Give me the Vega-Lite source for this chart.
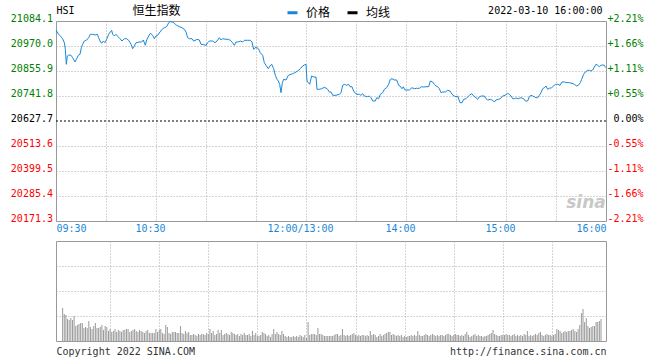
{
 "$schema": "https://vega.github.io/schema/vega-lite/v6.json",
 "padding": {"left": 9, "top": 3, "right": 5, "bottom": 4},
 "autosize": {"type": "pad"},
 "background": "white",
 "config": {
  "view": {"stroke": "#999999", "strokeWidth": 1},
  "font": "DejaVu Sans Mono",
  "axis": {"labelFont": "DejaVu Sans Mono", "labelFontSize": 10, "titleFont": "DejaVu Sans Mono", "titleFontSize": 10, "titleFontWeight": "normal", "ticks": false, "domain": false, "gridColor": "#aaaaaa", "gridDash": [1, 2], "gridWidth": 1}
 },
 "datasets": {
  "price": [
   {"m":0,"p":21043.0},{"m":1.6,"p":21023.4},{"m":3,"p":21012.5},{"m":4,"p":21003.3},{"m":5,"p":20985.1},{"m":5.6,"p":20954.9},{"m":6.2,"p":20886.5},{"m":6.8,"p":20924.4},{"m":7.6,"p":20928.9},{"m":9,"p":20927.6},{"m":10,"p":20916.6},{"m":11.4,"p":20897.0},{"m":12.4,"p":20912.0},{"m":13.4,"p":20927.6},{"m":14.4,"p":20932.1},{"m":15.2,"p":20962.2},{"m":16,"p":20977.8},{"m":17,"p":20992.8},{"m":18.4,"p":20997.4},{"m":19.6,"p":21007.9},{"m":20.6,"p":21023.4},{"m":22,"p":21023.4},{"m":23.6,"p":21020.2},{"m":24.8,"p":21023.4},{"m":25.6,"p":21007.9},{"m":26.4,"p":20992.8},{"m":27.4,"p":20982.3},{"m":28.4,"p":20992.8},{"m":29.4,"p":20985.1},{"m":30.4,"p":21000.6},{"m":31.6,"p":21023.4},{"m":32.6,"p":21033.9},{"m":33.4,"p":21041.7},{"m":34,"p":21023.4},{"m":35,"p":21015.6},{"m":36,"p":21023.4},{"m":37.2,"p":21012.5},{"m":38.4,"p":21003.3},{"m":39.6,"p":20992.8},{"m":41,"p":21003.3},{"m":42.4,"p":21003.3},{"m":43.6,"p":20996.0},{"m":45,"p":20977.8},{"m":46,"p":20957.7},{"m":47,"p":20970.0},{"m":48,"p":20985.1},{"m":50,"p":20988.3},{"m":51.4,"p":20988.3},{"m":52.4,"p":20997.4},{"m":53.6,"p":20973.2},{"m":54.4,"p":20997.4},{"m":55.6,"p":21015.6},{"m":56.6,"p":21028.0},{"m":58,"p":21018.8},{"m":59,"p":21003.3},{"m":60,"p":21015.6},{"m":61,"p":21018.8},{"m":62.4,"p":21033.9},{"m":64,"p":21049.0},{"m":65,"p":21053.5},{"m":66.4,"p":21058.1},{"m":67.6,"p":21076.3},{"m":68.4,"p":21080.9},{"m":70,"p":21079.5},{"m":71,"p":21073.6},{"m":72.4,"p":21064.5},{"m":74,"p":21058.1},{"m":75.6,"p":21053.5},{"m":77,"p":21046.2},{"m":78,"p":21033.9},{"m":79,"p":21007.9},{"m":80,"p":21003.3},{"m":81.6,"p":21003.3},{"m":82.6,"p":20992.8},{"m":84,"p":20997.4},{"m":84.6,"p":21000.6},{"m":86,"p":20997.4},{"m":87,"p":20977.8},{"m":88.6,"p":20975.9},{"m":90,"p":20973.2},{"m":91,"p":20985.1},{"m":92,"p":20992.8},{"m":94,"p":20992.8},{"m":95.4,"p":20985.1},{"m":96.6,"p":20992.8},{"m":98,"p":21007.9},{"m":99,"p":20997.4},{"m":100,"p":21003.3},{"m":102,"p":21000.6},{"m":103.4,"p":21000.6},{"m":104.6,"p":20996.0},{"m":106,"p":20985.1},{"m":107,"p":20973.2},{"m":108,"p":20988.3},{"m":109.4,"p":20988.3},{"m":110.6,"p":20992.8},{"m":112,"p":20988.3},{"m":113,"p":20996.0},{"m":115,"p":20996.0},{"m":116.6,"p":20996.0},{"m":117.6,"p":20988.3},{"m":118.6,"p":20954.9},{"m":119.4,"p":20962.2},{"m":120.6,"p":20962.2},{"m":121.4,"p":20957.7},{"m":122.6,"p":20939.4},{"m":124,"p":20927.6},{"m":125,"p":20893.8},{"m":126,"p":20881.9},{"m":127.4,"p":20866.4},{"m":128.4,"p":20878.7},{"m":129.4,"p":20886.5},{"m":130.6,"p":20866.4},{"m":131.6,"p":20836.3},{"m":132.6,"p":20818.0},{"m":133.4,"p":20810.3},{"m":134.2,"p":20795.2},{"m":135,"p":20756.9},{"m":135.8,"p":20802.5},{"m":136.6,"p":20818.0},{"m":138,"p":20814.8},{"m":139.4,"p":20836.3},{"m":141,"p":20840.8},{"m":142.6,"p":20845.4},{"m":144,"p":20851.3},{"m":145,"p":20855.9},{"m":146.6,"p":20866.4},{"m":148,"p":20878.7},{"m":149,"p":20883.3},{"m":150,"p":20886.5},{"m":150.6,"p":20810.3},{"m":151.4,"p":20802.5},{"m":152.2,"p":20795.2},{"m":153.4,"p":20833.1},{"m":154.6,"p":20828.5},{"m":156,"p":20828.5},{"m":156.6,"p":20772.4},{"m":158,"p":20772.4},{"m":159.4,"p":20775.1},{"m":161,"p":20781.5},{"m":162,"p":20778.3},{"m":163,"p":20772.4},{"m":164,"p":20760.1},{"m":165,"p":20760.1},{"m":166,"p":20745.0},{"m":168,"p":20745.0},{"m":170,"p":20749.6},{"m":171,"p":20756.9},{"m":172,"p":20790.6},{"m":173,"p":20795.2},{"m":174.4,"p":20790.6},{"m":175.6,"p":20795.2},{"m":176.4,"p":20784.2},{"m":177.6,"p":20784.2},{"m":178.6,"p":20764.6},{"m":179.6,"p":20754.1},{"m":180.6,"p":20749.6},{"m":182,"p":20749.6},{"m":183,"p":20745.0},{"m":184,"p":20752.3},{"m":185,"p":20741.8},{"m":187,"p":20738.6},{"m":188,"p":20741.8},{"m":189,"p":20734.0},{"m":190,"p":20719.0},{"m":191.6,"p":20719.0},{"m":192.4,"p":20734.0},{"m":193.6,"p":20729.5},{"m":194.6,"p":20749.6},{"m":196,"p":20756.9},{"m":197,"p":20772.4},{"m":198.4,"p":20779.7},{"m":199.6,"p":20795.2},{"m":200.6,"p":20818.0},{"m":201.6,"p":20820.8},{"m":203,"p":20814.8},{"m":204.4,"p":20814.8},{"m":205.6,"p":20790.6},{"m":206.4,"p":20787.4},{"m":207.6,"p":20775.1},{"m":208.4,"p":20784.2},{"m":209.4,"p":20769.2},{"m":210.6,"p":20769.2},{"m":212,"p":20769.2},{"m":213.6,"p":20779.7},{"m":215,"p":20775.1},{"m":216.4,"p":20776.9},{"m":218,"p":20776.9},{"m":219.2,"p":20784.2},{"m":220.4,"p":20782.9},{"m":222,"p":20784.2},{"m":223.6,"p":20784.2},{"m":224.6,"p":20810.3},{"m":226,"p":20805.7},{"m":227,"p":20795.2},{"m":228,"p":20787.4},{"m":229,"p":20784.2},{"m":230,"p":20775.1},{"m":231,"p":20756.9},{"m":232,"p":20760.1},{"m":233.6,"p":20760.1},{"m":235,"p":20767.8},{"m":236.4,"p":20764.6},{"m":237.6,"p":20749.6},{"m":239,"p":20741.8},{"m":240,"p":20738.6},{"m":241,"p":20741.8},{"m":242.4,"p":20711.2},{"m":243.6,"p":20711.2},{"m":244.6,"p":20726.7},{"m":246,"p":20729.5},{"m":248,"p":20745.0},{"m":249.4,"p":20752.3},{"m":250.6,"p":20741.8},{"m":252,"p":20734.0},{"m":253,"p":20726.7},{"m":254,"p":20738.6},{"m":255.4,"p":20741.8},{"m":257,"p":20741.8},{"m":258,"p":20729.5},{"m":259,"p":20723.5},{"m":260.6,"p":20726.7},{"m":262,"p":20722.2},{"m":263,"p":20714.4},{"m":264,"p":20723.5},{"m":265.4,"p":20726.7},{"m":266.6,"p":20729.5},{"m":268,"p":20741.8},{"m":269.4,"p":20745.0},{"m":271,"p":20754.1},{"m":272,"p":20749.6},{"m":273,"p":20741.8},{"m":274,"p":20729.5},{"m":275,"p":20729.5},{"m":276,"p":20732.7},{"m":277.4,"p":20729.5},{"m":279,"p":20734.0},{"m":280.6,"p":20729.5},{"m":281.6,"p":20719.0},{"m":283,"p":20719.0},{"m":284,"p":20738.6},{"m":285,"p":20745.0},{"m":286,"p":20741.8},{"m":287,"p":20738.6},{"m":288,"p":20734.0},{"m":289,"p":20734.0},{"m":290,"p":20745.0},{"m":291,"p":20756.9},{"m":292,"p":20775.1},{"m":293,"p":20779.7},{"m":294,"p":20787.4},{"m":295,"p":20772.4},{"m":296,"p":20776.9},{"m":297.4,"p":20779.7},{"m":298.6,"p":20787.4},{"m":299.6,"p":20795.2},{"m":301,"p":20795.2},{"m":302.4,"p":20790.6},{"m":303.6,"p":20805.7},{"m":305,"p":20805.7},{"m":306.6,"p":20802.5},{"m":308,"p":20802.5},{"m":309.6,"p":20799.8},{"m":311,"p":20795.2},{"m":312.4,"p":20787.4},{"m":313.4,"p":20790.6},{"m":314.6,"p":20802.5},{"m":315.4,"p":20818.0},{"m":316.6,"p":20840.8},{"m":317.6,"p":20851.3},{"m":319,"p":20859.1},{"m":320,"p":20859.1},{"m":321,"p":20855.9},{"m":322,"p":20860.5},{"m":323,"p":20874.2},{"m":324,"p":20886.5},{"m":325,"p":20882.0},{"m":326,"p":20875.5},{"m":327,"p":20882.0},{"m":328,"p":20883.3},{"m":329,"p":20882.0},{"m":329.6,"p":20874.2},{"m":330,"p":20871.0}
  ],
  "vol": [
   {"m":1,"v":33},{"m":2,"v":27},{"m":3,"v":26},{"m":4,"v":22},{"m":5,"v":21},{"m":6,"v":23},{"m":7,"v":21},{"m":8,"v":25},{"m":9,"v":15},{"m":10,"v":16},{"m":11,"v":17},{"m":12,"v":18},{"m":13,"v":18},{"m":14,"v":13},{"m":15,"v":14},{"m":16,"v":13},{"m":17,"v":20},{"m":18,"v":14},{"m":19,"v":12},{"m":20,"v":15},{"m":21,"v":18},{"m":22,"v":13},{"m":23,"v":13},{"m":24,"v":14},{"m":25,"v":16},{"m":26,"v":11},{"m":27,"v":15},{"m":28,"v":14},{"m":29,"v":10},{"m":30,"v":12},
   {"m":31,"v":9},{"m":32,"v":10},{"m":33,"v":12},{"m":34,"v":9},{"m":35,"v":11},{"m":36,"v":10},{"m":37,"v":9},{"m":38,"v":11},{"m":39,"v":11},{"m":40,"v":12},{"m":41,"v":12},{"m":42,"v":9},{"m":43,"v":10},{"m":44,"v":11},{"m":45,"v":12},{"m":46,"v":10},{"m":47,"v":9},{"m":48,"v":11},{"m":49,"v":10},{"m":50,"v":9},{"m":51,"v":8},{"m":52,"v":10},{"m":53,"v":11},{"m":54,"v":8},{"m":55,"v":8},{"m":56,"v":8},{"m":57,"v":8},{"m":58,"v":12},{"m":59,"v":9},{"m":60,"v":11},
   {"m":61,"v":12},{"m":62,"v":8},{"m":63,"v":7},{"m":64,"v":16},{"m":65,"v":14},{"m":66,"v":8},{"m":67,"v":7},{"m":68,"v":9},{"m":69,"v":9},{"m":70,"v":9},{"m":71,"v":8},{"m":72,"v":8},{"m":73,"v":15},{"m":74,"v":8},{"m":75,"v":7},{"m":76,"v":10},{"m":77,"v":8},{"m":78,"v":9},{"m":79,"v":6},{"m":80,"v":6},{"m":81,"v":7},{"m":82,"v":6},{"m":83,"v":5},{"m":84,"v":7},{"m":85,"v":6},{"m":86,"v":7},{"m":87,"v":7},{"m":88,"v":6},{"m":89,"v":8},{"m":90,"v":7},
   {"m":91,"v":12},{"m":92,"v":8},{"m":93,"v":10},{"m":94,"v":6},{"m":95,"v":7},{"m":96,"v":11},{"m":97,"v":8},{"m":98,"v":11},{"m":99,"v":6},{"m":100,"v":7},{"m":101,"v":8},{"m":102,"v":7},{"m":103,"v":6},{"m":104,"v":9},{"m":105,"v":8},{"m":106,"v":7},{"m":107,"v":6},{"m":108,"v":7},{"m":109,"v":5},{"m":110,"v":7},{"m":111,"v":6},{"m":112,"v":8},{"m":113,"v":6},{"m":114,"v":6},{"m":115,"v":7},{"m":116,"v":5},{"m":117,"v":10},{"m":118,"v":6},{"m":119,"v":8},{"m":120,"v":5},
   {"m":121,"v":5},{"m":122,"v":6},{"m":123,"v":9},{"m":124,"v":8},{"m":125,"v":7},{"m":126,"v":5},{"m":127,"v":6},{"m":128,"v":4},{"m":129,"v":7},{"m":130,"v":12},{"m":131,"v":7},{"m":132,"v":9},{"m":133,"v":7},{"m":134,"v":6},{"m":135,"v":10},{"m":136,"v":7},{"m":137,"v":5},{"m":138,"v":4},{"m":139,"v":5},{"m":140,"v":4},{"m":141,"v":4},{"m":142,"v":5},{"m":143,"v":4},{"m":144,"v":5},{"m":145,"v":4},{"m":146,"v":6},{"m":147,"v":5},{"m":148,"v":4},{"m":149,"v":6},{"m":150,"v":3},
   {"m":151,"v":19},{"m":152,"v":6},{"m":153,"v":7},{"m":154,"v":7},{"m":155,"v":7},{"m":156,"v":6},{"m":157,"v":13},{"m":158,"v":7},{"m":159,"v":7},{"m":160,"v":6},{"m":161,"v":5},{"m":162,"v":5},{"m":163,"v":5},{"m":164,"v":5},{"m":165,"v":5},
   {"m":166,"v":5},{"m":167,"v":6},{"m":168,"v":7},{"m":169,"v":7},{"m":170,"v":5},{"m":171,"v":6},{"m":172,"v":12},{"m":173,"v":6},{"m":174,"v":5},{"m":175,"v":6},{"m":176,"v":5},{"m":177,"v":6},{"m":178,"v":7},{"m":179,"v":8},{"m":180,"v":6},
   {"m":181,"v":5},{"m":182,"v":6},{"m":183,"v":5},{"m":184,"v":6},{"m":185,"v":6},{"m":186,"v":5},{"m":187,"v":6},{"m":188,"v":5},{"m":189,"v":10},{"m":190,"v":6},{"m":191,"v":7},{"m":192,"v":6},{"m":193,"v":4},{"m":194,"v":5},{"m":195,"v":7},{"m":196,"v":5},{"m":197,"v":6},{"m":198,"v":7},{"m":199,"v":8},{"m":200,"v":9},{"m":201,"v":9},{"m":202,"v":6},{"m":203,"v":7},{"m":204,"v":6},{"m":205,"v":5},{"m":206,"v":6},{"m":207,"v":5},{"m":208,"v":6},{"m":209,"v":4},{"m":210,"v":5},
   {"m":211,"v":4},{"m":212,"v":5},{"m":213,"v":5},{"m":214,"v":6},{"m":215,"v":5},{"m":216,"v":6},{"m":217,"v":5},{"m":218,"v":10},{"m":219,"v":6},{"m":220,"v":5},{"m":221,"v":5},{"m":222,"v":6},{"m":223,"v":7},{"m":224,"v":6},{"m":225,"v":5},{"m":226,"v":6},{"m":227,"v":7},{"m":228,"v":6},{"m":229,"v":5},{"m":230,"v":6},{"m":231,"v":5},{"m":232,"v":6},{"m":233,"v":6},{"m":234,"v":5},{"m":235,"v":6},{"m":236,"v":7},{"m":237,"v":7},{"m":238,"v":6},{"m":239,"v":5},{"m":240,"v":6},
   {"m":241,"v":7},{"m":242,"v":6},{"m":243,"v":6},{"m":244,"v":5},{"m":245,"v":6},{"m":246,"v":5},{"m":247,"v":7},{"m":248,"v":9},{"m":249,"v":6},{"m":250,"v":4},{"m":251,"v":5},{"m":252,"v":6},{"m":253,"v":7},{"m":254,"v":5},{"m":255,"v":6},{"m":256,"v":5},{"m":257,"v":5},{"m":258,"v":4},{"m":259,"v":5},{"m":260,"v":5},{"m":261,"v":6},{"m":262,"v":7},{"m":263,"v":8},{"m":264,"v":11},{"m":265,"v":7},{"m":266,"v":6},{"m":267,"v":5},{"m":268,"v":5},{"m":269,"v":6},{"m":270,"v":6},
   {"m":271,"v":6},{"m":272,"v":7},{"m":273,"v":6},{"m":274,"v":6},{"m":275,"v":5},{"m":276,"v":6},{"m":277,"v":7},{"m":278,"v":5},{"m":279,"v":6},{"m":280,"v":5},{"m":281,"v":6},{"m":282,"v":5},{"m":283,"v":7},{"m":284,"v":6},{"m":285,"v":10},{"m":286,"v":5},{"m":287,"v":6},{"m":288,"v":5},{"m":289,"v":6},{"m":290,"v":7},{"m":291,"v":6},{"m":292,"v":8},{"m":293,"v":9},{"m":294,"v":6},{"m":295,"v":5},{"m":296,"v":6},{"m":297,"v":7},{"m":298,"v":6},{"m":299,"v":6},{"m":300,"v":5},
   {"m":301,"v":6},{"m":302,"v":7},{"m":303,"v":12},{"m":304,"v":11},{"m":305,"v":10},{"m":306,"v":8},{"m":307,"v":9},{"m":308,"v":10},{"m":309,"v":9},{"m":310,"v":10},{"m":311,"v":10},{"m":312,"v":11},{"m":313,"v":12},{"m":314,"v":10},{"m":315,"v":9},{"m":316,"v":12},{"m":317,"v":16},{"m":318,"v":28},{"m":319,"v":32},{"m":320,"v":19},{"m":321,"v":23},{"m":322,"v":15},{"m":323,"v":13},{"m":324,"v":14},{"m":325,"v":15},{"m":326,"v":15},{"m":327,"v":19},{"m":328,"v":19},{"m":329,"v":20},{"m":330,"v":22}
  ]
 },
 "spacing": 20,
 "bounds": "flush",
 "vconcat": [
  {
   "width": 550,
   "height": 200,
   "layer": [
    {
     "data": {"name": "price"},
     "mark": {"type": "line", "strokeWidth": 1},
     "encoding": {
      "x": {"field": "m", "type": "quantitative", "scale": {"domain": [0, 330], "nice": false, "zero": false},
       "axis": {"values": [0, 30, 60, 90, 120, 150, 180, 210, 240, 270, 300, 330],
        "labelExpr": "datum.value == 0 ? '09:30' : datum.value == 60 ? '10:30' : datum.value == 150 ? '12:00/13:00' : datum.value == 210 ? '14:00' : datum.value == 270 ? '15:00' : datum.value == 330 ? '16:00' : ''",
        "labelColor": "#1a87d6", "labelPadding": 2, "labelFlush": true, "labelOverlap": false,
        "labelOffset": {"condition": {"test": "datum.value == 0 || datum.value == 330", "value": 0}, "value": -6},
        "gridOpacity": {"condition": {"test": "datum.value == 0 || datum.value == 330", "value": 0}, "value": 1},
        "title": "恒生指数", "titleX": 76, "titleY": -211, "titleAlign": "left", "titleBaseline": "middle", "titleAngle": 0,
        "titleFont": "Noto Sans CJK SC", "titleFontSize": 12, "titleColor": "#000000"}},
      "y": {"field": "p", "type": "quantitative", "scale": {"domain": [20171.3, 21084.1], "nice": false, "zero": false},
       "axis": {"orient": "left", "values": [20171.3, 20285.4, 20399.5, 20513.6, 20627.7, 20741.8, 20855.9, 20970.0, 21084.1],
        "format": ".1f", "labelPadding": 3.5, "labelOffset": -3, "labelBaseline": "middle",
        "gridOpacity": {"condition": {"test": "datum.value > 21084 || datum.value < 20172 || abs(datum.value - 20627.7) < 1", "value": 0}, "value": 1},
        "labelColor": {"condition": [{"test": "datum.value > 20628", "value": "#008000"}, {"test": "datum.value < 20627", "value": "#ff0000"}], "value": "#000000"},
        "title": "HSI", "titleAngle": 0, "titleX": 0, "titleY": -11, "titleAlign": "left", "titleBaseline": "middle", "titleColor": "#000000"}},
      "color": {"datum": "价格", "type": "nominal",
       "scale": {"domain": ["价格", "均线"], "range": ["#1a87d6", "#000000"]},
       "legend": {"orient": "none", "legendX": 230, "legendY": -15, "direction": "horizontal", "title": null,
        "symbolType": "stroke", "symbolStrokeWidth": 3, "symbolSize": 100, "labelFont": "Noto Sans CJK SC", "labelFontSize": 12,
        "labelColor": "#000000", "labelOffset": 7, "columnPadding": 10, "padding": 0}}
     }
    },
    {
     "data": {"values": [{"m": 318, "p": 20252, "t": "sina"}]},
     "mark": {"type": "text", "font": "DejaVu Sans", "fontSize": 17, "fontWeight": "bold", "fontStyle": "italic", "color": "#c8c8c8"},
     "encoding": {
      "x": {"field": "m", "type": "quantitative", "scale": {"domain": [0, 330], "nice": false, "zero": false}},
      "y": {"field": "p", "type": "quantitative", "scale": {"domain": [20171.3, 21084.1], "nice": false, "zero": false}, "axis": null},
      "text": {"field": "t"}
     }
    },
    {
     "data": {"values": [{"pct": 0}]},
     "mark": {"type": "rule", "color": "#000000", "strokeDash": [2, 2], "strokeWidth": 1},
     "encoding": {
      "y": {"field": "pct", "type": "quantitative", "scale": {"domain": [-2.2125, 2.2125], "nice": false, "zero": false},
       "axis": {"orient": "right", "grid": false,
        "values": [-2.2125, -1.659375, -1.10625, -0.553125, 0, 0.553125, 1.10625, 1.659375, 2.2125],
        "labelExpr": "(datum.value > 0.001 ? '+' : datum.value < -0.001 ? '-' : '') + format(abs(datum.value), '.2f') + '%'",
        "labelAlign": "right", "labelPadding": 37, "labelOffset": -3, "labelBaseline": "middle",
        "labelColor": {"condition": [{"test": "datum.value > 0.001", "value": "#008000"}, {"test": "datum.value < -0.001", "value": "#ff0000"}], "value": "#000000"},
        "title": "2022-03-10 16:00:00", "titleAngle": 0, "titleX": -4, "titleY": -11, "titleAlign": "right", "titleBaseline": "middle", "titleColor": "#000000"}}
     }
    }
   ],
   "resolve": {"scale": {"y": "independent"}, "axis": {"y": "independent"}}
  },
  {
   "width": 550,
   "height": 100,
   "data": {"name": "vol"},
   "mark": {"type": "bar", "width": 1, "color": "#999999"},
   "encoding": {
    "x": {"field": "m", "type": "quantitative", "scale": {"domain": [0, 330], "nice": false, "zero": false},
     "axis": {"values": [30, 60, 90, 120, 150, 180, 210, 240, 270, 300], "labels": false,
      "title": "Copyright 2022 SINA.COM", "titleX": 0, "titleY": 10, "titleAlign": "left", "titleBaseline": "middle", "titleColor": "#333333"}},
    "y": {"field": "v", "type": "quantitative", "scale": {"domain": [0, 100], "nice": false},
     "axis": {"values": [25, 50, 75], "labels": false,
      "title": "http://finance.sina.com.cn", "titleAngle": 0, "titleX": 550, "titleY": 110, "titleAlign": "right", "titleBaseline": "middle", "titleColor": "#333333"}}
   }
  }
 ]
}
